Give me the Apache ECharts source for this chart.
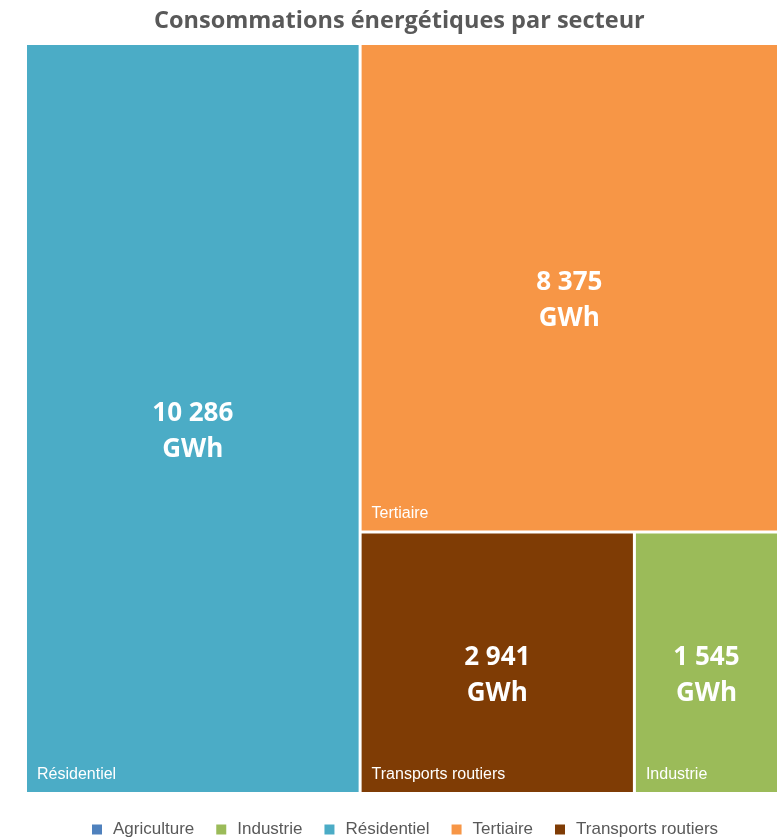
<!DOCTYPE html>
<html>
<head>
<meta charset="utf-8">
<script src="https://cdn.jsdelivr.net/npm/echarts@6/dist/echarts.min.js"></script>
<style>html,body{margin:0;padding:0;background:#fff}#c{width:782px;height:837px}</style>
</head>
<body>
<div id="c"></div>
<script>
var categories = ['Agriculture', 'Industrie', 'Résidentiel', 'Tertiaire', 'Transports routiers'];
var values = [0, 1545, 10286, 8375, 2941];
var colors = ['#4F81BD', '#9BBB59', '#4BACC6', '#F79646', '#7F3C05'];
var unit = 'GWh';

function fmt(v) { return String(v).replace(/\B(?=(\d{3})+(?!\d))/g, ' '); }

var tmData = [], nameData = [], pieData = [];
categories.forEach(function (c, i) {
  pieData.push({ name: c, value: 1, itemStyle: { color: colors[i] } });
  if (values[i] > 0) {
    tmData.push({ name: c, value: values[i], itemStyle: { color: colors[i] } });
    nameData.push({ name: c, value: values[i], itemStyle: { color: 'rgba(0,0,0,0)' } });
  }
});

var common = {
  type: 'treemap', left: 27, top: 45, width: 750, height: 747,
  roam: false, nodeClick: false, breadcrumb: { show: false },
  squareRatio: 0.45, sort: 'desc', animation: false
};

var chart = echarts.init(document.getElementById('c'));
chart.setOption({
  backgroundColor: '#fff',
  animation: false,
  title: {
    text: 'Consommations énergétiques par secteur', left: 149, top: 4,
    textStyle: { fontFamily: 'Open Sans', fontWeight: 'bold', fontSize: 23.5, color: '#595959' }
  },
  legend: {
    top: 816, left: 87, icon: 'rect', itemWidth: 10, itemHeight: 10, itemGap: 22,
    data: categories, selectedMode: false,
    textStyle: { fontFamily: 'Liberation Sans', fontSize: 17, color: '#595959', padding: [0, 0, 0, 6] }
  },
  series: [
    Object.assign({}, common, {
      name: 'values',
      levels: [{ itemStyle: { borderWidth: 0, gapWidth: 3, borderColor: '#fff' } }],
      label: {
        show: true, position: 'inside', align: 'center', verticalAlign: 'middle', offset: [0, 13],
        fontFamily: 'Open Sans', fontWeight: 'bold', fontSize: 26, lineHeight: 36, color: '#fff',
        formatter: function (p) { return fmt(p.value) + '\n' + unit; }
      },
      data: tmData
    }),
    Object.assign({}, common, {
      name: 'names', silent: true,
      levels: [{ itemStyle: { borderWidth: 0, gapWidth: 3, borderColor: 'rgba(0,0,0,0)' } }],
      label: {
        show: true, position: 'insideBottomLeft', distance: 6, padding: [0, 0, 3, 4],
        fontFamily: 'Liberation Sans', fontSize: 16, color: '#fff',
        formatter: function (p) { return p.name; }
      },
      data: nameData
    }),
    {
      type: 'pie', radius: [0, 0], center: [-100, -100], silent: true,
      label: { show: false }, labelLine: { show: false }, data: pieData
    }
  ]
});
</script>
</body>
</html>
